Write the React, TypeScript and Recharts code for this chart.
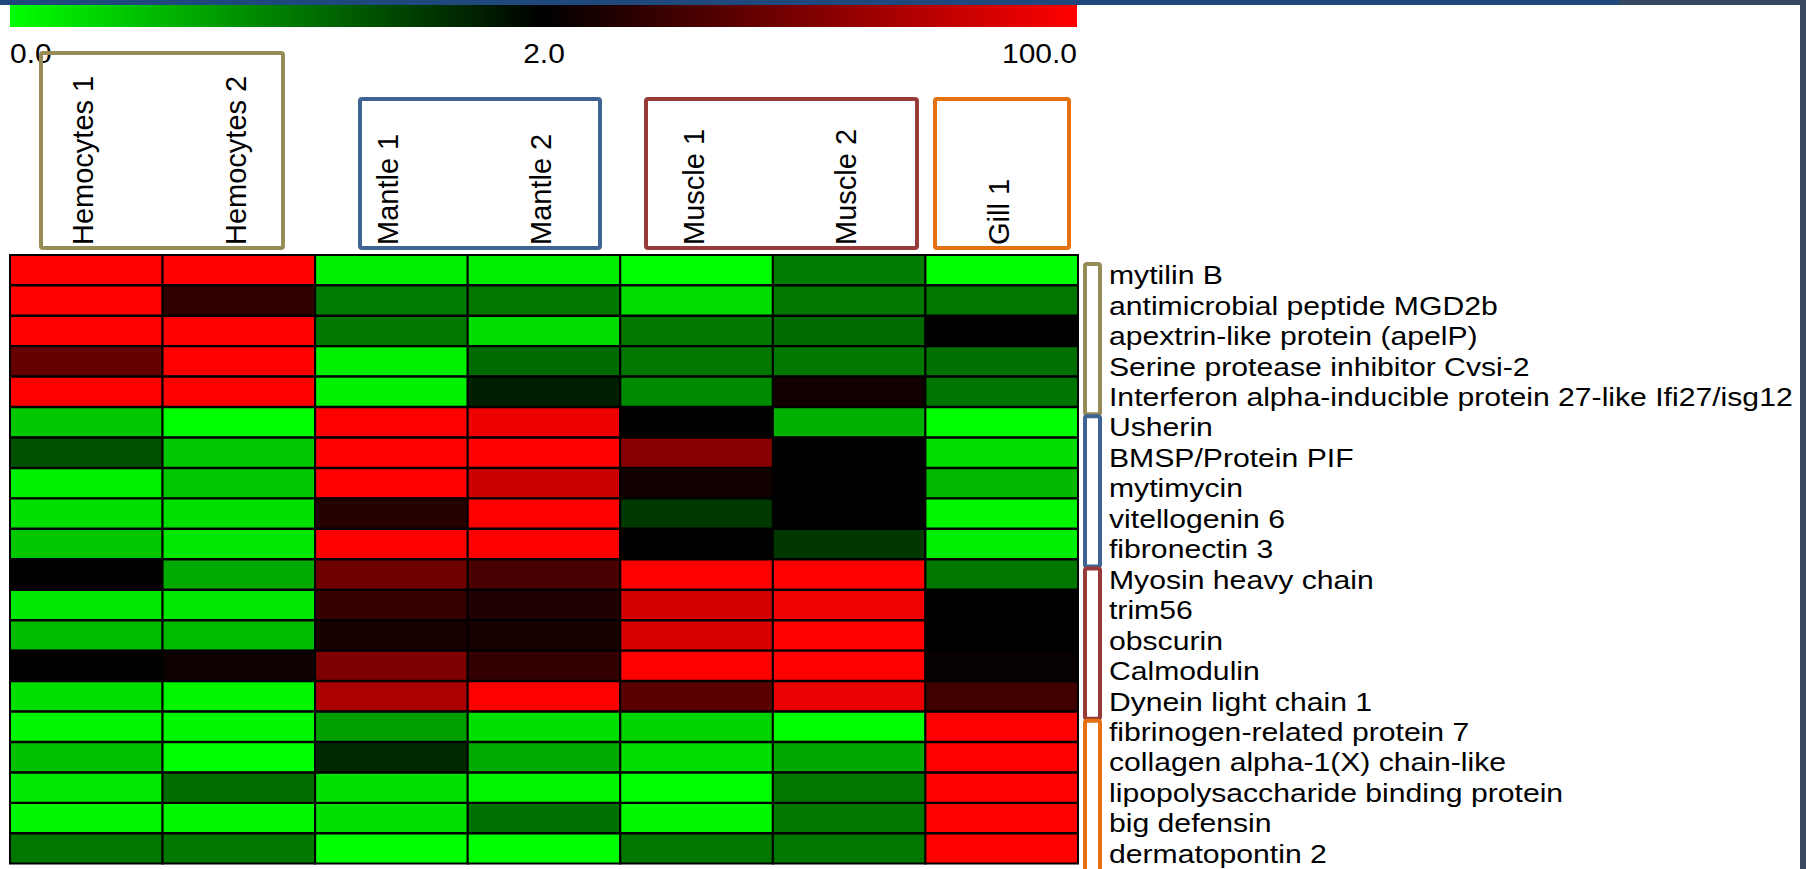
import React from 'react';
import { BarChart, Bar, XAxis, YAxis, Cell } from 'recharts';

const FONT = '"Liberation Sans", Arial, Helvetica, sans-serif';

const genes = [
  'mytilin B',
  'antimicrobial peptide MGD2b',
  'apextrin-like protein (apelP)',
  'Serine protease inhibitor Cvsi-2',
  'Interferon alpha-inducible protein 27-like Ifi27/isg12',
  'Usherin',
  'BMSP/Protein PIF',
  'mytimycin',
  'vitellogenin 6',
  'fibronectin 3',
  'Myosin heavy chain',
  'trim56',
  'obscurin',
  'Calmodulin',
  'Dynein light chain 1',
  'fibrinogen-related protein 7',
  'collagen alpha-1(X) chain-like',
  'lipopolysaccharide binding protein',
  'big defensin',
  'dermatopontin 2',
];

const samples = ['Hemocytes 1', 'Hemocytes 2', 'Mantle 1', 'Mantle 2', 'Muscle 1', 'Muscle 2', 'Gill 1'];

// expression per sample, one value per gene in the order above
const hemocytes1 = [100, 100, 100, 9.42, 100, 0.43, 1.37, 0.12, 0.24, 0.43, 2.0, 0.18, 0.53, 2.0, 0.24, 0.08, 0.49, 0.18, 0.08, 1.06];
const hemocytes2 = [100, 4.18, 100, 100, 100, 0.0, 0.43, 0.43, 0.24, 0.18, 0.67, 0.18, 0.53, 2.4, 0.08, 0.06, 0.0, 1.14, 0.06, 1.06];
const mantle1 = [0.13, 1.04, 1.06, 0.12, 0.12, 100, 100, 100, 3.53, 100, 11.15, 4.58, 2.89, 13.4, 27.1, 0.75, 1.69, 0.24, 0.24, 0.0];
const mantle2 = [0.13, 1.06, 0.27, 1.18, 1.76, 77.0, 100, 45.7, 100, 100, 6.22, 3.27, 2.8, 4.31, 100, 0.24, 0.67, 0.08, 1.12, 0.0];
const muscle1 = [0.0, 0.27, 1.06, 1.06, 0.92, 2.0, 16.1, 2.56, 1.55, 2.0, 100, 51.7, 55.0, 100, 7.96, 0.34, 0.27, 0.0, 0.05, 1.06];
const muscle2 = [1.02, 1.06, 1.17, 1.06, 2.56, 0.62, 2.0, 2.0, 2.0, 1.56, 100, 79.4, 100, 100, 72.5, 0.0, 0.68, 1.06, 1.06, 1.06];
const gill1 = [0.0, 1.06, 2.0, 1.12, 1.09, 0.0, 0.27, 0.56, 0.08, 0.13, 1.06, 2.0, 2.0, 2.19, 5.34, 100, 100, 100, 100, 100];

const columns = [hemocytes1, hemocytes2, mantle1, mantle2, muscle1, muscle2, gill1];

// colour key: 0 -> green, 2 -> black, 100 -> red (log above 2)
const scaleTicks = [0, 2, 100];

// tissue groups: boxes over the sample labels, brackets beside the gene names
const groups = [
  { name: 'Hemocytes', color: '#978b57', x0: 41, x1: 283, y0: 53 },
  { name: 'Mantle', color: '#3d6492', x0: 360, x1: 600, y0: 99 },
  { name: 'Muscle', color: '#983a39', x0: 646, x1: 917, y0: 99 },
  { name: 'Gill', color: '#e5700f', x0: 935, x1: 1069, y0: 99 },
];

const W = 1806;
const H = 869;
const GRID_LEFT = 10;
const GRID_RIGHT = 1078;
const GRID_TOP = 255;
const GRID_BOTTOM = 864;
const ROW_H = (GRID_BOTTOM - GRID_TOP) / genes.length;

const heatColor = (v: number) => {
  if (v <= scaleTicks[1]) {
    const g = Math.round(255 * (1 - v / scaleTicks[1]));
    return `rgb(0,${g},0)`;
  }
  const t = Math.log(v / scaleTicks[1]) / Math.log(scaleTicks[2] / scaleTicks[1]);
  return `rgb(${Math.round(255 * Math.min(1, t))},0,0)`;
};

const rows = genes.map((gene, i) => {
  const row: Record<string, string | number> = { gene };
  samples.forEach((s, j) => {
    row[s] = columns[j][i];
  });
  return row;
});

const SampleTick = (props: any) => {
  const { x, y, payload } = props;
  const name = samples[Math.floor(payload.value)];
  return (
    <text
      transform={`translate(${x + 7},${y - 10}) rotate(-90)`}
      fontSize={29}
      fontFamily={FONT}
      fill="#000"
    >
      {name}
    </text>
  );
};

const GeneTick = (props: any) => {
  const { x, y, payload } = props;
  return (
    <text
      transform={`translate(${x + 31},${y + 14}) scale(1.16,1)`}
      fontSize={26}
      fontFamily={FONT}
      fill="#000"
    >
      {payload.value}
    </text>
  );
};

const ColorKey = () => {
  const mid = (GRID_LEFT + GRID_RIGHT) / 2;
  const labelX = [GRID_LEFT, mid, GRID_RIGHT - 1];
  const anchors = ['start', 'middle', 'end'] as const;
  return (
    <g>
      <defs>
        <linearGradient id="heatKey" x1="0" x2="1" y1="0" y2="0">
          <stop offset="0" stopColor={heatColor(scaleTicks[0])} />
          <stop offset="0.5" stopColor={heatColor(scaleTicks[1])} />
          <stop offset="1" stopColor={heatColor(scaleTicks[2])} />
        </linearGradient>
      </defs>
      <rect x={GRID_LEFT} y={5} width={GRID_RIGHT - GRID_LEFT - 1} height={22} fill="url(#heatKey)" />
      {scaleTicks.map((t, k) => (
        <text
          key={t}
          transform={`translate(${labelX[k]},63) scale(1.07,1)`}
          textAnchor={anchors[k]}
          fontSize={28}
          fontFamily={FONT}
          fill="#000"
        >
          {t.toFixed(1)}
        </text>
      ))}
    </g>
  );
};

const GroupMarks = () => (
  <g fill="none" strokeWidth={4}>
    {groups.map((g) => (
      <rect
        key={`box-${g.name}`}
        x={g.x0}
        y={g.y0}
        width={g.x1 - g.x0}
        height={248 - g.y0}
        rx={2}
        stroke={g.color}
      />
    ))}
    {groups.map((g, k) => (
      <rect
        key={`bracket-${g.name}`}
        x={GRID_RIGHT + 7}
        y={GRID_TOP + k * 5 * ROW_H + 9}
        width={15}
        height={5 * ROW_H - 2}
        rx={2}
        stroke={g.color}
      />
    ))}
  </g>
);

const App: React.FC = () => (
  <div style={{ position: 'fixed', left: 0, top: 0, width: W, height: H, background: '#fff', overflow: 'hidden' }}>
    <BarChart
      width={W}
      height={H}
      data={rows}
      layout="vertical"
      barCategoryGap={0}
      barGap={0}
      margin={{ top: 0, right: 0, bottom: H - GRID_BOTTOM, left: GRID_LEFT }}
    >
      <XAxis
        type="number"
        orientation="top"
        domain={[0, samples.length]}
        ticks={samples.map((_, j) => j + 0.5)}
        height={GRID_TOP}
        axisLine={false}
        tickLine={false}
        tickSize={0}
        tickMargin={0}
        interval={0}
        tick={<SampleTick />}
      />
      <YAxis
        type="category"
        dataKey="gene"
        orientation="right"
        width={W - GRID_RIGHT}
        axisLine={false}
        tickLine={false}
        tickSize={0}
        tickMargin={0}
        interval={0}
        tick={<GeneTick />}
      />
      {samples.map((s) => (
        <Bar key={s} dataKey={() => 1} name={s} stackId="grid" isAnimationActive={false}>
          {rows.map((r, i) => (
            <Cell key={i} fill={heatColor(r[s] as number)} stroke="#000" strokeWidth={2} />
          ))}
        </Bar>
      ))}
    </BarChart>
    <svg width={W} height={H} style={{ position: 'absolute', left: 0, top: 0, pointerEvents: 'none' }}>
      <ColorKey />
      <GroupMarks />
      {/* window frame: title strip and right edge */}
      <rect x={0} y={0} width={1619} height={5} fill="#1f497d" />
      <rect x={1619} y={0} width={W - 1619} height={5} fill="#34495f" />
      <rect x={1800} y={0} width={6} height={H} fill="#3b4960" />
    </svg>
  </div>
);

export default App;
